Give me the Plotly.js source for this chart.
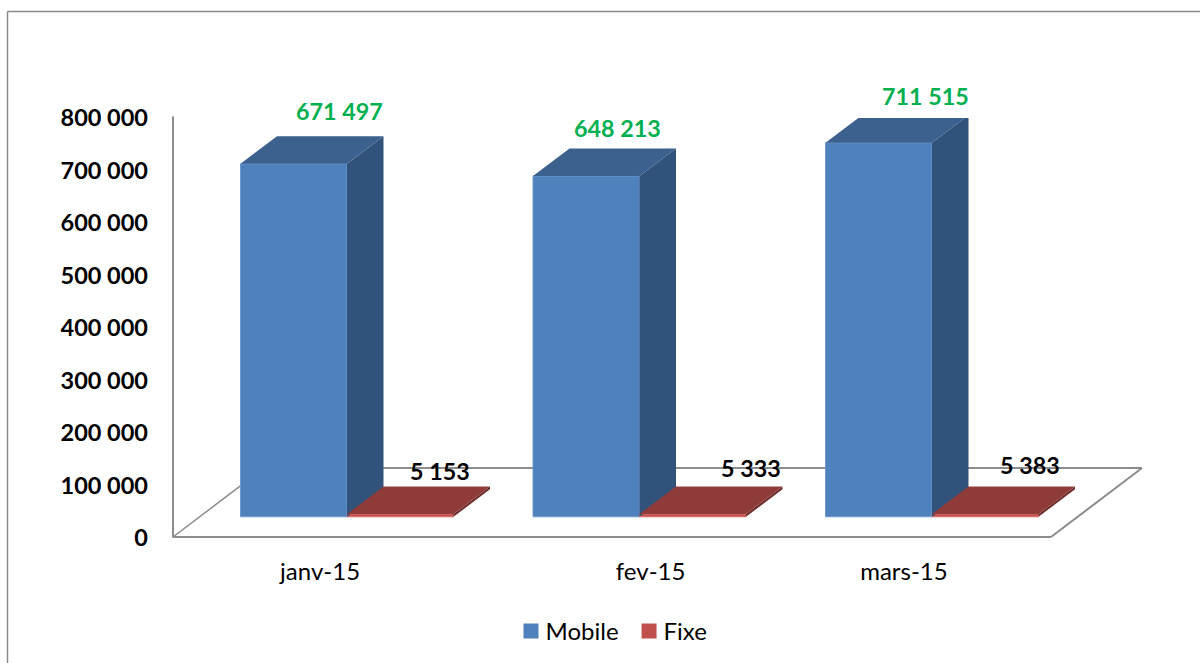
<!DOCTYPE html>
<html>
<head>
<meta charset="utf-8">
<script src="https://cdn.plot.ly/plotly-3.0.1.min.js"></script>
<style>html,body{margin:0;padding:0;background:#fff}#c{width:1200px;height:663px}</style>
</head>
<body>
<div id="c"></div>
<script>
var categories = ['janv-15', 'fev-15', 'mars-15'];
var mobile = [671497, 648213, 711515];
var fixe = [5153, 5333, 5383];
var yTicks = [0, 100000, 200000, 300000, 400000, 500000, 600000, 700000, 800000];

// tick label nudges, and the hand-placed data labels of the original (pixels)
var catLabelShift = [-0.092, 0.038, -0.096];
var mobileLabelShift = [[46, 53], [31.5, 48], [47, 47]];
var fixeLabelShift = [[39.5, 43], [58, 46], [44.5, 49]];

var W = 1200, H = 663;
var L = 173, R = 1150, T = 118, B = 538;
var unitPx = 292.5, c0 = 347;
var y2Scale = 0.0005257, y2ZeroPx = 516.8;
var barW = 106.5 / unitPx;
var dX = 36.5 / unitPx, dY = 27.5 / y2Scale;

var pos = categories.map(function (_, i) { return i; });

function faces(values, left) {
  var side = {x: [], y: []}, top = {x: [], y: []};
  values.forEach(function (v, i) {
    var x0 = left ? i - barW : i, x1 = x0 + barW;
    side.x.push(x1, x1 + dX, x1 + dX, x1, null);
    side.y.push(v, v + dY, dY, 0, null);
    top.x.push(x0, x1, x1 + dX, x0 + dX, null);
    top.y.push(v, v, v + dY, v + dY, null);
  });
  return {side: side, top: top};
}
function poly(p, color) {
  return {type: 'scatter', mode: 'lines', x: p.x, y: p.y, xaxis: 'x', yaxis: 'y2', fill: 'toself',
    fillcolor: color, line: {width: 0, color: color}, hoverinfo: 'skip', showlegend: false, connectgaps: false};
}
var fm = faces(mobile, true), ff = faces(fixe, false);

var traces = [
  {type: 'bar', name: 'Mobile', x: pos, y: mobile, xaxis: 'x', yaxis: 'y2',
    marker: {color: '#4F81BD', line: {color: '#6f9ad0', width: 1}}},
  {type: 'bar', name: 'Fixe', x: pos, y: fixe, xaxis: 'x', yaxis: 'y2',
    marker: {color: '#C0504D', line: {color: '#d9706c', width: 1}}},
  poly(fm.side, '#31527A'),
  poly(fm.top, '#3C618F'),
  poly(ff.side, '#6e2c2a'),
  poly(ff.top, '#8F3B39'),
  // keeps the tick axis alive
  {type: 'scatter', mode: 'none', x: pos, y: mobile, xaxis: 'x', yaxis: 'y', hoverinfo: 'skip', showlegend: false}
];

function fmt(v) { return String(v).replace(/\B(?=(\d{3})+$)/g, ' '); }
var annotations = [];
mobile.forEach(function (v, i) {
  annotations.push({x: i - barW / 2, y: v, xref: 'x', yref: 'y2', text: '<b>' + fmt(v) + '</b>', showarrow: false,
    xanchor: 'center', yanchor: 'middle', xshift: mobileLabelShift[i][0], yshift: mobileLabelShift[i][1],
    font: {family: 'Lato', size: 23.3, color: '#00B050'}});
});
fixe.forEach(function (v, i) {
  annotations.push({x: i + barW / 2, y: v, xref: 'x', yref: 'y2', text: '<b>' + fmt(v) + '</b>', showarrow: false,
    xanchor: 'center', yanchor: 'middle', xshift: fixeLabelShift[i][0], yshift: fixeLabelShift[i][1],
    font: {family: 'Lato', size: 23.3, color: '#000'}});
});

function px(x) { return (x - L) / (R - L); }
function py(y) { return (B - y) / (B - T); }
function seg(x0, y0, x1, y1, color, w) {
  return {type: 'line', xref: 'paper', yref: 'paper', x0: px(x0), y0: py(y0), x1: px(x1), y1: py(y1),
    line: {color: color, width: w}, layer: 'below'};
}
var grey = '#8C8C8C';
var shapes = [
  seg(7.5, 11.5, 1200, 11.5, grey, 1.5),
  seg(7.5, 11.5, 7.5, 663, grey, 1.5),
  seg(173, 116.5, 173, 537.5, grey, 2),
  seg(173, 537, 1051, 537, grey, 2),
  seg(1051, 537, 1142, 468, grey, 2),
  seg(1142, 468, 264, 468, grey, 2),
  seg(264, 468, 173, 537, grey, 1.5)
];

var layout = {
  width: W, height: H,
  margin: {l: L, r: W - R, t: T, b: H - B, pad: 0, autoexpand: false},
  paper_bgcolor: '#fff', plot_bgcolor: 'rgba(0,0,0,0)',
  separators: ', ',
  showlegend: true,
  barmode: 'group',
  bargap: 1 - 2 * barW,
  bargroupgap: 0,
  xaxis: {
    range: [(L - c0) / unitPx, (R - c0) / unitPx],
    tickvals: pos.map(function (p, i) { return p + catLabelShift[i]; }),
    ticktext: categories,
    ticks: '', showgrid: false, zeroline: false, showline: false,
    ticklabelstandoff: 17,
    tickfont: {family: 'Lato', size: 24, color: '#000'}
  },
  yaxis: {
    range: [0, 800000],
    tickvals: yTicks,
    tickformat: ',d',
    ticks: '', showgrid: false, zeroline: false, showline: false,
    ticklabelstandoff: 24,
    tickfont: {family: 'Lato', size: 23.5, color: '#000', weight: 'bold'}
  },
  yaxis2: {
    overlaying: 'y',
    range: [(y2ZeroPx - B) / y2Scale, (y2ZeroPx - T) / y2Scale],
    visible: false
  },
  legend: {
    orientation: 'h', x: px(505.5), y: py(609), xanchor: 'left', yanchor: 'top',
    font: {family: 'Lato', size: 24, color: '#000'}, bgcolor: 'rgba(0,0,0,0)'
  },
  annotations: annotations,
  shapes: shapes
};

Plotly.newPlot('c', traces, layout, {displayModeBar: false, staticPlot: true}).then(function () {
  document.querySelectorAll('#c .legendpoints path').forEach(function (p) {
    p.setAttribute('d', 'M13,7.5H-2V-7.5H13Z');
    p.style.strokeWidth = 0;
  });
});
</script>
</body>
</html>
